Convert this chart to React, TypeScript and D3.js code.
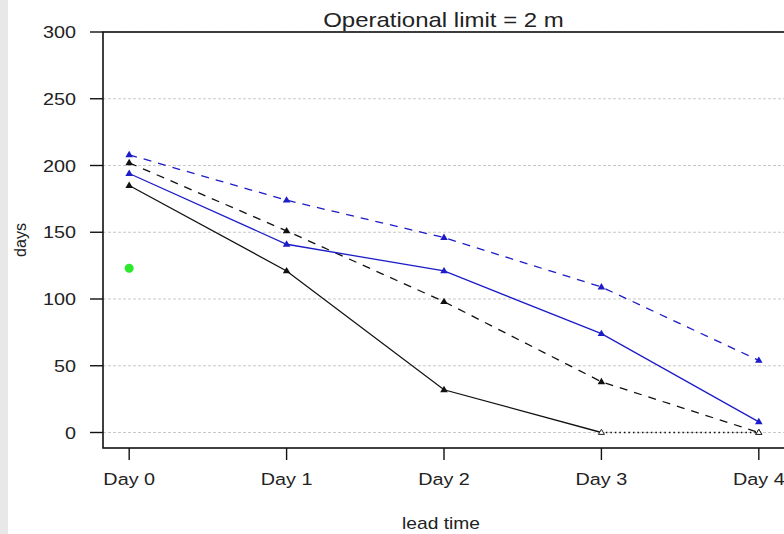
import React from "react";
import * as d3 from "d3";

const days = ["Day 0", "Day 1", "Day 2", "Day 3", "Day 4"];
const yTicks = [0, 50, 100, 150, 200, 250, 300];
const blueDashed = [208, 174, 146, 109, 54];
const blackDashed = [202, 151, 98, 38, 0];
const blueSolid = [194, 141, 121, 74, 8];
const blackSolid = [185, 121, 32, 0, 0];
const observed = [{ day: 0, value: 123 }];
const title = "Operational limit = 2 m";
const xLabel = "lead time";
const yLabel = "days";

const W = 784;
const H = 534;
const BLUE = "#1c1cc8";
const FONT = "'Liberation Sans', Arial, sans-serif";
const SX = 1.2;

function SText({ x, y, size, anchor = "middle", children }: any) {
  return (
    <text
      transform={`translate(${x},${y}) scale(${SX},1)`}
      fontSize={size}
      fontFamily={FONT}
      textAnchor={anchor}
      fill="#222"
    >
      {children}
    </text>
  );
}

export default function App() {
  const x = d3.scaleLinear().domain([-0.16, 4.16]).range([104, 784]);
  const y = d3.scaleLinear().domain([0, 300]).range([432.5, 32]);
  const boxTop = 32;
  const boxBottom = 448;
  const boxLeft = 103;
  const boxRight = 784;

  const line = d3
    .line<number>()
    .x((_, i) => x(i))
    .y((d) => y(d));
  const lineIdx = d3
    .line<[number, number]>()
    .x((d) => x(d[0]))
    .y((d) => y(d[1]));

  const tri = (cx: number, cy: number, r: number) =>
    `M${cx},${cy - r} L${cx + r * 0.95},${cy + r * 0.6} L${cx - r * 0.95},${cy + r * 0.6} Z`;

  const markers = (vals: number[], color: string) =>
    vals.map((v, i) =>
      v === 0 ? (
        <path key={i} d={tri(x(i), y(v), 3.2)} fill="white" stroke="#222" strokeWidth={1} />
      ) : (
        <path key={i} d={tri(x(i), y(v), 4)} fill={color} stroke="none" />
      )
    );

  const solidPart = blackSolid.slice(0, 4);
  const dottedPart: [number, number][] = [
    [3, blackSolid[3]],
    [4, blackSolid[4]],
  ];

  return (
    <svg width={W} height={H} style={{ position: "absolute", left: 0, top: 0, background: "white" }}>
      <rect x={0} y={0} width={8} height={H} fill="#e8e8e8" />
      {/* grid */}
      {yTicks.map((t) => (
        <line
          key={t}
          x1={boxLeft}
          x2={boxRight}
          y1={y(t)}
          y2={y(t)}
          stroke="#c8c8c8"
          strokeWidth={1}
          strokeDasharray="3,2"
        />
      ))}
      {/* box */}
      <rect
        x={boxLeft}
        y={boxTop}
        width={boxRight - boxLeft + 2}
        height={boxBottom - boxTop}
        fill="none"
        stroke="#111"
        strokeWidth={1.6}
      />
      {/* y axis ticks */}
      {yTicks.map((t) => (
        <g key={t}>
          <line x1={90} x2={boxLeft} y1={y(t)} y2={y(t)} stroke="#111" strokeWidth={1.4} />
          <SText x={76} y={y(t) + 6} size={16.5} anchor="end">
            {t}
          </SText>
        </g>
      ))}
      {/* x axis ticks */}
      {days.map((d, i) => (
        <g key={d}>
          <line x1={x(i)} x2={x(i)} y1={boxBottom} y2={460} stroke="#111" strokeWidth={1.4} />
          <SText x={x(i)} y={485} size={16.5}>
            {d}
          </SText>
        </g>
      ))}
      {/* series */}
      <path d={line(blueDashed) || ""} fill="none" stroke={BLUE} strokeWidth={1.3} strokeDasharray="8,7" />
      <path d={line(blackDashed) || ""} fill="none" stroke="#111" strokeWidth={1.3} strokeDasharray="8,7" />
      <path d={line(blueSolid) || ""} fill="none" stroke={BLUE} strokeWidth={1.3} />
      <path d={line(solidPart) || ""} fill="none" stroke="#111" strokeWidth={1.3} />
      <path d={lineIdx(dottedPart) || ""} fill="none" stroke="#111" strokeWidth={1.3} strokeDasharray="1.5,3" />
      {markers(blueDashed, BLUE)}
      {markers(blackDashed, "#111")}
      {markers(blueSolid, BLUE)}
      {markers(blackSolid, "#111")}
      {observed.map((o, i) => (
        <circle key={i} cx={x(o.day)} cy={y(o.value)} r={4.5} fill="#2ee82e" />
      ))}
      {/* title and labels */}
      <SText x={443.5} y={27} size={20}>
        {title}
      </SText>
      <SText x={441} y={529} size={16}>
        {xLabel}
      </SText>
      <text
        transform={`translate(26,240) rotate(-90)`}
        fontSize={16}
        fontFamily={FONT}
        textAnchor="middle"
        fill="#222"
      >
        {yLabel}
      </text>
    </svg>
  );
}
